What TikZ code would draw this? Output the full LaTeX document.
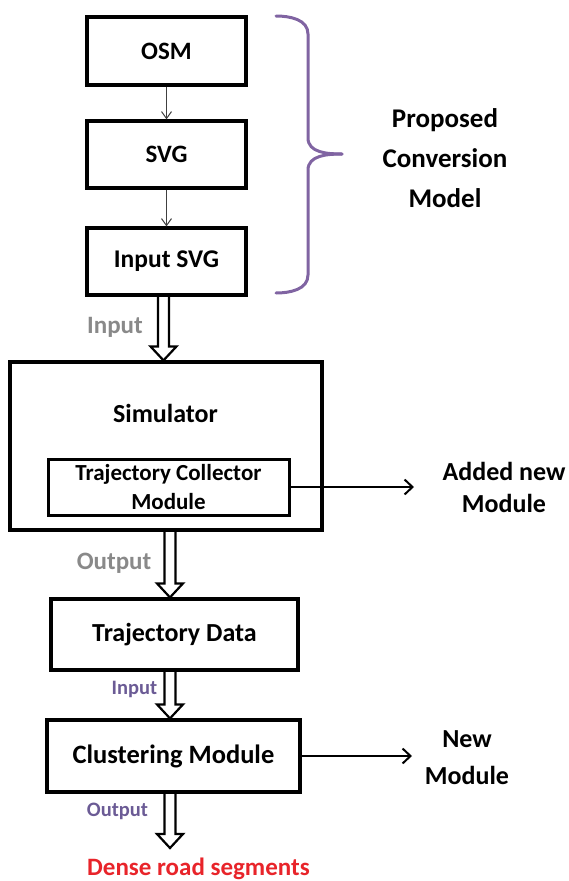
\documentclass[tikz,border=0pt]{standalone}
\usepackage{fontspec}
\setmainfont{Carlito}
\usetikzlibrary{arrows.meta,calc}
\definecolor{bracepurple}{HTML}{8064A2}
\definecolor{labelgray}{HTML}{898989}
\definecolor{labelpurple}{HTML}{6B5B95}
\definecolor{densered}{HTML}{E8242A}
\begin{document}
\begin{tikzpicture}[x=1pt,y=-1pt,
  box/.style={draw, line width=3.2pt, rectangle, inner sep=0pt, align=center,
    font=\fontsize{25}{30}\selectfont\bfseries},
  innerbox/.style={draw, line width=3pt, rectangle, inner sep=0pt, align=center,
    font=\fontsize{23}{29}\selectfont\bfseries},
  sidetext/.style={align=center, font=\fontsize{26}{32}\selectfont\bfseries},
  graylabel/.style={text=labelgray, font=\fontsize{25}{28}\selectfont\bfseries},
  purplelabel/.style={text=labelpurple, font=\fontsize{20.5}{24}\selectfont\bfseries},
  thinarrow/.style={draw=black!75, line width=1pt, -{Straight Barb[length=7pt,width=10pt]}},
  sidearrow/.style={draw, line width=2pt, -{Straight Barb[length=8pt,width=15pt,line width=2pt]}},
  hollowarrow/.style={draw, line width=2.2pt, line join=miter,
    to path={let \p1=(\tikztostart), \p2=(\tikztotarget) in
      (\x1-5.5pt,\y1) -- (\x1-5.5pt,\y2+14pt) -- (\x1-13pt,\y2+14pt) -- (\x2,\y2)
      -- (\x1+13pt,\y2+14pt) -- (\x1+5.5pt,\y2+14pt) -- (\x1+5.5pt,\y1)}},
  brace/.style={draw=bracepurple, line width=3pt, line cap=round}]
\useasboundingbox (0,0) rectangle (569,881);

% conversion chain
\node[box, minimum width=159pt, minimum height=68pt] (osm) at (166.5,51) {OSM};
\node[box, minimum width=159pt, minimum height=67pt] (svg) at (166.5,154.5) {SVG};
\node[box, minimum width=159pt, minimum height=67pt, font=\fontsize{25.5}{30}\selectfont\bfseries] (isvg) at (166.5,261.5) {Input SVG};
\draw[thinarrow] (osm) -- (svg);
\draw[thinarrow] (svg) -- (isvg);

% brace around the conversion model
\draw[brace] (276,16) to[out=0,in=90] (308,34) -- (308,138) to[out=-90,in=180] (342,154);
\draw[brace] (342,154) to[out=180,in=90] (308,170) -- (308,275) to[out=-90,in=0] (276,293);
\node[sidetext, font=\fontsize{27}{40}\selectfont\bfseries] (pcm) at (445,158) {Proposed\\Conversion\\Model};

% simulator with the collector module
\node[box, minimum width=312pt, minimum height=168pt] (sim) at (166,446) {};
\node[font=\fontsize{26}{30}\selectfont\bfseries] (simtxt) at (165.5,413) {Simulator};
\node[innerbox, minimum width=241pt, minimum height=56pt] (tcm) at (168.5,487) {Trajectory Collector\\Module};
\coordinate (addtip) at (414,487);
\draw[sidearrow] (tcm.east) -- (addtip);
\node[sidetext] (added) at (504,487) {Added new\\Module};

% trajectory data and clustering
\node[box, minimum width=247pt, minimum height=71pt, font=\fontsize{26}{30}\selectfont\bfseries] (td) at (174.5,634.5) {Trajectory Data};
\node[box, minimum width=253pt, minimum height=72pt, font=\fontsize{26.5}{30}\selectfont\bfseries] (cm) at (173.5,756) {Clustering Module};
\coordinate (newtip) at (412,756);
\draw[sidearrow] (cm.east) -- (newtip);
\node[sidetext, font=\fontsize{26}{37}\selectfont\bfseries] (newmod) at (467,758) {New\\Module};

% hollow flow arrows
\coordinate (axisA) at (163.5,0);
\coordinate (axisB) at (170,0);
\coordinate (densetip) at (170,848);
\draw[hollowarrow] (isvg.south -| axisA) to (sim.north -| axisA);
\draw[hollowarrow] (sim.south -| axisB) to (td.north -| axisB);
\draw[hollowarrow] (td.south -| axisB) to (cm.north -| axisB);
\draw[hollowarrow] (cm.south -| axisB) to (densetip);

\node[graylabel] (lin1) at (115,327) {Input};
\node[graylabel] (lout1) at (114,563) {Output};
\node[purplelabel] (lin2) at (134.5,689) {Input};
\node[purplelabel] (lout2) at (117.5,811) {Output};
\node[text=densered, font=\fontsize{25}{30}\selectfont\bfseries] (dense) at (198.5,869) {Dense road segments};
\end{tikzpicture}
\end{document}
